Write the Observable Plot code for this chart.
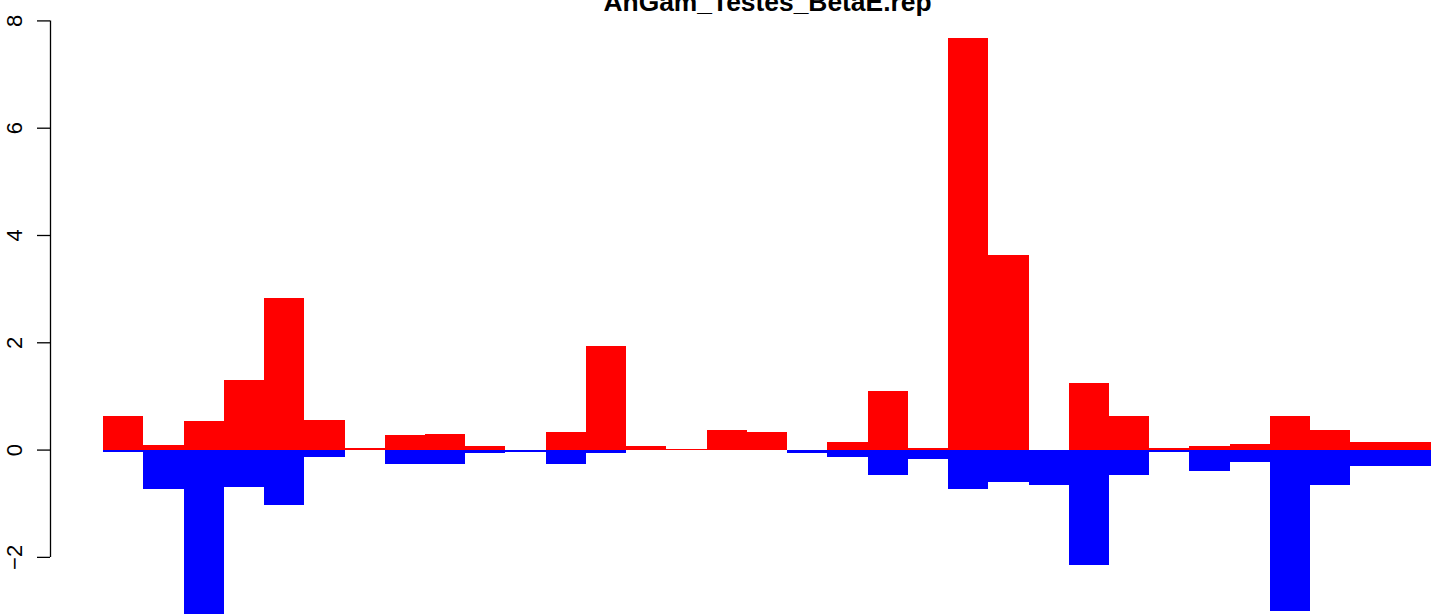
<!DOCTYPE html>
<html>
<head>
<meta charset="utf-8">
<script src="https://cdn.jsdelivr.net/npm/d3@7"></script>
<script src="https://cdn.jsdelivr.net/npm/@observablehq/plot@0.6"></script>
<style>
  html, body { margin: 0; padding: 0; background: #fff; overflow: hidden; }
  #chart svg { display: block; max-width: none !important; }
</style>
</head>
<body>
<div id="chart"></div>
<script>
const title = "AnGam_Testes_BetaE.rep";
const positive = [0.62, 0.08, 0.53, 1.29, 2.82, 0.56, 0.03, 0.27, 0.29, 0.06, 0.00,
                  0.32, 1.93, 0.06, 0.02, 0.36, 0.32, 0.00, 0.14, 1.09, 0.03, 7.67,
                  3.63, 0.00, 1.25, 0.62, 0.03, 0.06, 0.10, 0.62, 0.36, 0.14, 0.14];
const negative = [-0.04, -0.74, -3.10, -0.70, -1.04, -0.14, 0.00, -0.27, -0.27, -0.07, -0.04,
                  -0.27, -0.07, 0.00, 0.00, 0.00, 0.00, -0.07, -0.14, -0.48, -0.18, -0.74,
                  -0.61, -0.66, -2.15, -0.48, -0.04, -0.40, -0.24, -3.00, -0.66, -0.31, -0.31];
const yTicks = [-2, 0, 2, 4, 6, 8];

const n = positive.length;
const posData = positive.map((v, i) => ({x1: i, x2: i + 1, v}));
const negData = negative.map((v, i) => ({x1: i, x2: i + 1, v}));

// R-style 4% axis extension
const ymin = d3.min(negative), ymax = d3.max(positive);
const yext = (ymax - ymin) * 0.04;
const xext = n * 0.04;
const xDomain = [-xext, n + xext];
const font = "'Liberation Sans', Arial, Helvetica, sans-serif";

const chart = Plot.plot({
  width: 1500,
  height: 660,
  marginLeft: 50,
  marginRight: 16,
  marginTop: 15,
  marginBottom: 21,
  style: {fontFamily: font, background: "white", overflow: "visible", maxWidth: "none"},
  x: {domain: xDomain, axis: null},
  y: {domain: [ymin - yext, ymax + yext], axis: null},
  marks: [
    Plot.rect(posData, {x1: "x1", x2: "x2", y1: 0, y2: "v", fill: "#ff0000", shapeRendering: "crispEdges"}),
    Plot.rect(negData, {x1: "x1", x2: "x2", y1: 0, y2: "v", fill: "#0000ff", shapeRendering: "crispEdges"}),
    Plot.ruleX([xDomain[0]], {y1: d3.min(yTicks), y2: d3.max(yTicks), stroke: "black", strokeWidth: 1.3}),
    Plot.axisY(yTicks, {
      anchor: "left",
      label: null,
      tickSize: 13,
      tickPadding: 23,
      tickRotate: -90,
      stroke: "black",
      strokeWidth: 1.3,
      strokeOpacity: 1,
      textAnchor: "middle",
      lineAnchor: "middle",
      fontSize: 22,
      fill: "black",
      tickFormat: d => String(d).replace("-", "\u2212")
    }),
    Plot.text([title], {
      frameAnchor: "top",
      lineAnchor: "bottom",
      dy: -5,
      text: d => d,
      fontSize: 26.4,
      fontWeight: "bold",
      fill: "black"
    })
  ]
});
document.getElementById("chart").appendChild(chart);
</script>
</body>
</html>
